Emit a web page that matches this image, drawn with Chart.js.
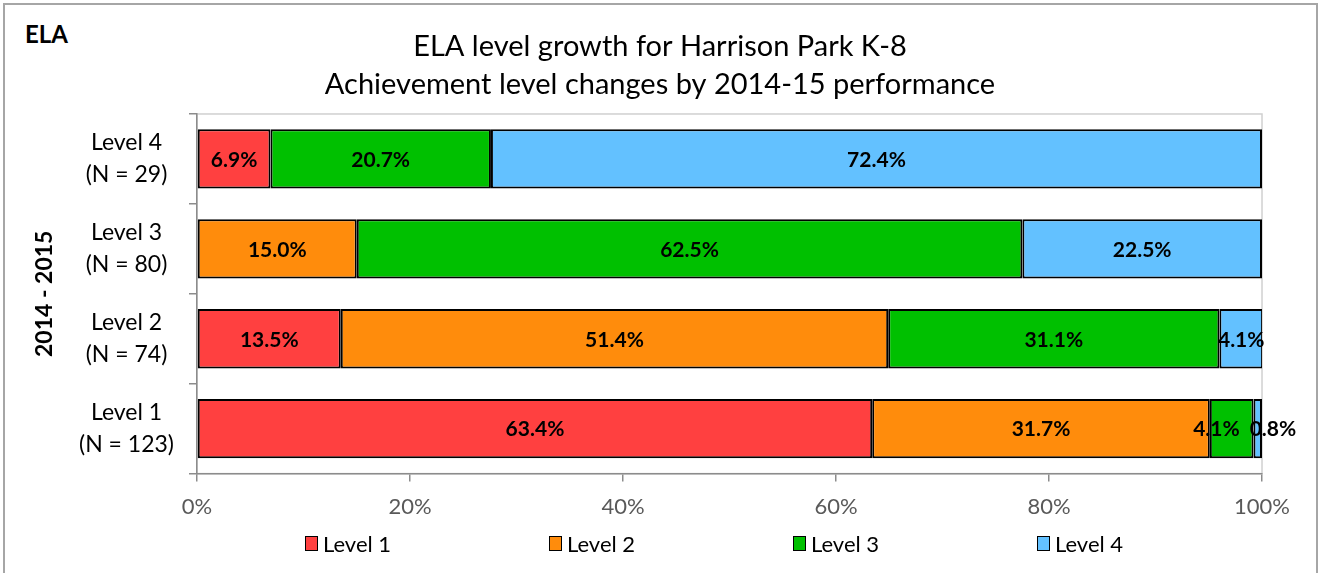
<!DOCTYPE html>
<html lang="en">
<head>
<meta charset="UTF-8" />
<title>ELA level growth for Harrison Park K-8</title>
<script src="https://cdn.jsdelivr.net/npm/chart.js"></script>
<style>
    html, body { margin: 0; padding: 0; background: #fff; }
    body { width: 1320px; height: 573px; overflow: hidden; position: relative; font-family: Lato, "Open Sans", sans-serif; }
    .frame { position: absolute; left: 3px; top: 3px; width: 1311px; height: 620px; border: 2px solid #a6a6a6; }
    .tag { position: absolute; left: 25px; top: 19px; font-weight: bold; font-size: 24px; color: #000; }
    #wrap { position: absolute; left: 0; top: 0; width: 1320px; height: 573px; }
    #legend { position: absolute; left: 305px; top: 530px; display: flex; }
    #legend .item { width: 244px; display: flex; align-items: center; font-size: 22px; color: #000; }
    #legend .box { width: 11px; height: 13px; border: 1.5px solid #000; margin-right: 5px; }
</style>
</head>
<body>
<div class="frame"></div>
<div class="tag">ELA</div>
<div id="wrap"><canvas id="chart" width="1320" height="573"></canvas></div>
<div id="legend"></div>

<script>
    // 2014-15 level (rows, top to bottom) and share reaching each level in 2015-16
    const categories = [
        ["Level 4", "(N = 29)"],
        ["Level 3", "(N = 80)"],
        ["Level 2", "(N = 74)"],
        ["Level 1", "(N = 123)"],
    ];
    const seriesNames = ["Level 1", "Level 2", "Level 3", "Level 4"];
    const level1 = [6.9, 0, 13.5, 63.4];
    const level2 = [0, 15.0, 51.4, 31.7];
    const level3 = [20.7, 62.5, 31.1, 4.1];
    const level4 = [72.4, 22.5, 4.1, 0.8];
    const xTicks = [0, 20, 40, 60, 80, 100];

    const colors = ["#ff4040", "#ff8c0c", "#00c000", "#63c1ff"];
    const FONT = "Lato, 'Open Sans', sans-serif";

    // light frame round the plot area (top and right show, axes cover the rest)
    const plotFrame = {
        id: "plotFrame",
        afterLayout(chart) {
            // center the title on the whole canvas, not the padded box
            if (chart.titleBlock) {
                chart.titleBlock.left = 0;
                chart.titleBlock.right = chart.width;
                chart.titleBlock.width = chart.width;
            }
        },
        beforeDraw(chart) {
            const { ctx, chartArea: a } = chart;
            ctx.save();
            ctx.strokeStyle = "#d0d0d0";
            ctx.lineWidth = 1.5;
            ctx.strokeRect(a.left, a.top, a.right - a.left, a.bottom - a.top);
            ctx.restore();
        },
    };

    // value labels in the middle of each segment, nudged apart when they collide
    const barLabels = {
        id: "barLabels",
        afterDatasetsDraw(chart) {
            const ctx = chart.ctx;
            ctx.save();
            ctx.font = "bold 21px " + FONT;
            ctx.fillStyle = "#000";
            ctx.textAlign = "center";
            ctx.textBaseline = "middle";
            chart.data.labels.forEach((_, i) => {
                let items = [];
                chart.data.datasets.forEach((ds, d) => {
                    const v = ds.data[i];
                    if (!v) return;
                    const bar = chart.getDatasetMeta(d).data[i];
                    const text = v.toFixed(1) + "%";
                    items.push({ x: (bar.x + bar.base) / 2, y: bar.y, text, w: ctx.measureText(text).width });
                });
                for (let k = 1; k < items.length; k++) {
                    const a = items[k - 1], b = items[k];
                    const need = (a.w + b.w) / 2 + 10;
                    const gap = b.x - a.x;
                    if (gap < need) {
                        const s = (need - gap) / 2;
                        a.x -= s;
                        b.x += s;
                    }
                }
                items.forEach((it) => ctx.fillText(it.text, it.x, it.y + 1));
            });
            ctx.restore();
        },
    };

    const PAD_LEFT = 20;

    const chart = new Chart(document.getElementById("chart"), {
        type: "bar",
        data: {
            labels: categories,
            datasets: [level1, level2, level3, level4].map((data, i) => ({
                label: seriesNames[i],
                data: data,
                backgroundColor: colors[i],
                borderColor: "#000",
                borderWidth: 2,
                borderSkipped: false,
                barPercentage: 0.66,
                categoryPercentage: 1,
            })),
        },
        options: {
            indexAxis: "y",
            responsive: false,
            animation: false,
            layout: { padding: { left: PAD_LEFT, right: 58, top: 0, bottom: 41 } },
            plugins: {
                legend: { display: false },
                tooltip: { enabled: false },
                title: {
                    display: true,
                    text: ["ELA level growth for Harrison Park K-8", "Achievement level changes by 2014-15 performance"],
                    color: "#000",
                    font: { family: FONT, size: 29, weight: "normal", lineHeight: 1.31 },
                    padding: { top: 28, bottom: 10 },
                },
            },
            scales: {
                x: {
                    stacked: true,
                    min: 0,
                    max: 100,
                    afterBuildTicks(scale) {
                        scale.ticks = xTicks.map((v) => ({ value: v }));
                    },
                    ticks: {
                        callback: (v) => v + "%",
                        color: "#595959",
                        font: { family: FONT, size: 22 },
                        padding: 12,
                    },
                    grid: { drawOnChartArea: false, tickLength: 8, color: "#8c8c8c", lineWidth: 1.5 },
                    border: { color: "#8c8c8c", width: 1.5 },
                },
                y: {
                    stacked: true,
                    ticks: {
                        color: "#000",
                        font: { family: FONT, size: 23, lineHeight: 1.4 },
                        crossAlign: "center",
                        padding: 15,
                    },
                    grid: { drawOnChartArea: false, tickLength: 8, color: "#8c8c8c", lineWidth: 1.5, offset: true },
                    border: { color: "#8c8c8c", width: 1.5 },
                    title: {
                        display: true,
                        text: "2014 - 2015",
                        color: "#000",
                        font: { family: FONT, size: 23, weight: "bold" },
                        padding: { top: 11, bottom: 0 },
                    },
                    afterFit(scale) {
                        scale.width = 197 - PAD_LEFT;
                    },
                },
            },
        },
        plugins: [plotFrame, barLabels],
    });

    // legend spread out evenly like the original
    const legendEl = document.getElementById("legend");
    chart.data.datasets.forEach((ds) => {
        const item = document.createElement("div");
        item.className = "item";
        const box = document.createElement("span");
        box.className = "box";
        box.style.background = ds.backgroundColor;
        item.appendChild(box);
        item.appendChild(document.createTextNode(ds.label));
        legendEl.appendChild(item);
    });
</script>
</body>
</html>
